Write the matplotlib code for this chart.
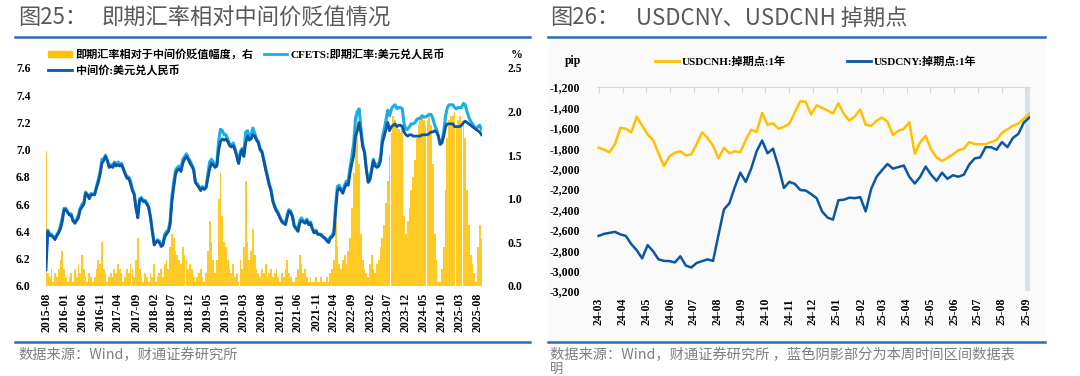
import numpy as np
import pandas as pd
import matplotlib
matplotlib.use("Agg")
import matplotlib.pyplot as plt
import matplotlib.dates as mdates
from matplotlib.lines import Line2D
from matplotlib.patches import Rectangle
from matplotlib.ticker import FuncFormatter, FormatStrFormatter

# %% data: left panel, semi-monthly (1st and 16th), 2015-08 .. 2025-09
mid_rate = [
    6.12, 6.40, 6.37, 6.37, 6.36, 6.34, 6.37, 6.39, 6.42, 6.47,
    6.56, 6.56, 6.54, 6.52, 6.52, 6.48, 6.46, 6.48, 6.50, 6.56, 6.58, 6.60, 6.68, 6.67, 6.64, 6.67, 6.67, 6.67, 6.72, 6.76, 6.82, 6.90, 6.92, 6.95,
    6.92, 6.87, 6.88, 6.87, 6.90, 6.88, 6.89, 6.88, 6.89, 6.86, 6.82, 6.79, 6.79, 6.75, 6.70, 6.67, 6.56, 6.50, 6.63, 6.64, 6.62, 6.62, 6.60, 6.58,
    6.50, 6.40, 6.30, 6.32, 6.33, 6.32, 6.29, 6.30, 6.36, 6.38, 6.40, 6.45, 6.62, 6.72, 6.82, 6.85, 6.86, 6.84, 6.90, 6.93, 6.95, 6.93, 6.90, 6.88,
    6.85, 6.76, 6.74, 6.72, 6.70, 6.72, 6.71, 6.72, 6.79, 6.86, 6.90, 6.89, 6.87, 6.88, 7.00, 7.06, 7.08, 7.07, 7.08, 7.06, 7.03, 7.02, 7.03, 7.00,
    6.95, 6.90, 6.97, 7.00, 6.95, 7.05, 7.10, 7.07, 7.08, 7.11, 7.10, 7.07, 7.05, 7.00, 6.98, 6.92, 6.85, 6.80, 6.74, 6.70, 6.62, 6.58, 6.55, 6.53,
    6.50, 6.47, 6.46, 6.45, 6.50, 6.55, 6.54, 6.51, 6.44, 6.42, 6.40, 6.46, 6.48, 6.47, 6.46, 6.48, 6.45, 6.46, 6.42, 6.39, 6.40, 6.38, 6.38, 6.37,
    6.36, 6.35, 6.33, 6.32, 6.35, 6.36, 6.38, 6.55, 6.70, 6.72, 6.70, 6.68, 6.72, 6.75, 6.74, 6.83, 6.90, 6.96, 7.10, 7.14, 7.20, 7.12, 7.02, 6.98,
    6.85, 6.76, 6.78, 6.85, 6.92, 6.88, 6.87, 6.88, 6.92, 7.05, 7.10, 7.15, 7.20, 7.14, 7.17, 7.18, 7.19, 7.17, 7.18, 7.18, 7.17, 7.13, 7.11, 7.10,
    7.11, 7.11, 7.10, 7.10, 7.10, 7.10, 7.10, 7.11, 7.11, 7.11, 7.11, 7.12, 7.13, 7.13, 7.14, 7.13, 7.10, 7.04, 7.05, 7.10, 7.17, 7.19, 7.19, 7.19,
    7.19, 7.17, 7.17, 7.17, 7.17, 7.18, 7.20, 7.21, 7.20, 7.19, 7.18, 7.17, 7.16, 7.15, 7.14, 7.13, 7.11,
]
spot_rate = [
    6.21, 6.41, 6.38, 6.38, 6.36, 6.35, 6.38, 6.40, 6.44, 6.50,
    6.57, 6.57, 6.54, 6.53, 6.53, 6.48, 6.47, 6.49, 6.52, 6.57, 6.60, 6.61, 6.69, 6.67, 6.65, 6.68, 6.67, 6.68, 6.73, 6.78, 6.84, 6.93, 6.93, 6.96,
    6.92, 6.88, 6.89, 6.88, 6.91, 6.89, 6.91, 6.89, 6.90, 6.86, 6.83, 6.80, 6.80, 6.77, 6.71, 6.68, 6.58, 6.54, 6.64, 6.65, 6.62, 6.63, 6.61, 6.58,
    6.51, 6.41, 6.32, 6.32, 6.34, 6.33, 6.30, 6.31, 6.38, 6.40, 6.41, 6.48, 6.66, 6.76, 6.85, 6.87, 6.88, 6.86, 6.93, 6.95, 6.97, 6.94, 6.92, 6.89,
    6.86, 6.76, 6.75, 6.73, 6.71, 6.73, 6.71, 6.73, 6.82, 6.91, 6.93, 6.91, 6.88, 6.90, 7.07, 7.15, 7.14, 7.11, 7.11, 7.08, 7.04, 7.03, 7.05, 7.01,
    6.96, 6.90, 6.99, 7.01, 6.98, 7.13, 7.14, 7.09, 7.11, 7.16, 7.12, 7.08, 7.06, 7.01, 6.99, 6.93, 6.87, 6.81, 6.75, 6.71, 6.63, 6.59, 6.56, 6.54,
    6.50, 6.48, 6.47, 6.46, 6.52, 6.56, 6.55, 6.51, 6.44, 6.43, 6.41, 6.48, 6.50, 6.48, 6.47, 6.49, 6.45, 6.47, 6.42, 6.39, 6.41, 6.38, 6.38, 6.38,
    6.36, 6.35, 6.34, 6.32, 6.36, 6.37, 6.40, 6.60, 6.73, 6.74, 6.71, 6.70, 6.74, 6.77, 6.77, 6.87, 6.96, 7.05, 7.23, 7.28, 7.30, 7.16, 7.04, 6.99,
    6.86, 6.77, 6.80, 6.87, 6.93, 6.89, 6.89, 6.90, 6.95, 7.09, 7.15, 7.22, 7.29, 7.25, 7.30, 7.32, 7.33, 7.30, 7.31, 7.31, 7.30, 7.19, 7.15, 7.15,
    7.17, 7.19, 7.19, 7.20, 7.22, 7.23, 7.23, 7.25, 7.24, 7.24, 7.25, 7.26, 7.26, 7.23, 7.18, 7.15, 7.10, 7.04, 7.06, 7.13, 7.25, 7.31, 7.33, 7.33,
    7.33, 7.31, 7.30, 7.31, 7.31, 7.31, 7.34, 7.33, 7.28, 7.24, 7.21, 7.19, 7.17, 7.15, 7.17, 7.18, 7.15,
]
depreciation_pct = [
    1.55, 0.15, 0.10, 0.20, 0.05, 0.15, 0.10, 0.20, 0.30, 0.40,
    0.20, 0.10, 0.05, 0.10, 0.15, 0.05, 0.20, 0.10, 0.25, 0.15, 0.35, 0.20, 0.10, 0.05, 0.15, 0.10, 0.05, 0.10, 0.20, 0.30, 0.25, 0.50, 0.20, 0.15,
    0.05, 0.10, 0.15, 0.10, 0.20, 0.15, 0.25, 0.20, 0.15, 0.05, 0.10, 0.20, 0.15, 0.25, 0.20, 0.10, 0.30, 0.55, 0.20, 0.10, 0.05, 0.15, 0.10, 0.05,
    0.15, 0.10, 0.25, 0.05, 0.10, 0.15, 0.20, 0.10, 0.25, 0.30, 0.20, 0.45, 0.60, 0.55, 0.40, 0.35, 0.30, 0.25, 0.45, 0.35, 0.30, 0.20, 0.25, 0.20,
    0.10, 0.05, 0.10, 0.15, 0.20, 0.10, 0.05, 0.15, 0.40, 0.75, 0.50, 0.30, 0.15, 0.30, 1.00, 1.30, 0.80, 0.50, 0.45, 0.30, 0.20, 0.15, 0.25, 0.10,
    0.15, 0.05, 0.30, 0.20, 0.45, 1.20, 0.50, 0.30, 0.40, 0.65, 0.35, 0.20, 0.15, 0.10, 0.20, 0.15, 0.25, 0.10, 0.15, 0.20, 0.10, 0.15, 0.20, 0.10,
    0.05, 0.15, 0.10, 0.20, 0.30, 0.15, 0.10, 0.05, 0.05, 0.10, 0.20, 0.35, 0.25, 0.15, 0.20, 0.10, 0.05, 0.10, 0.05, 0.05, 0.10, 0.05, 0.05, 0.10,
    0.05, 0.05, 0.10, 0.05, 0.15, 0.20, 0.30, 0.75, 0.45, 0.25, 0.20, 0.30, 0.35, 0.25, 0.40, 0.55, 0.90, 1.30, 1.80, 1.95, 1.40, 0.60, 0.30, 0.20,
    0.15, 0.10, 0.25, 0.35, 0.20, 0.15, 0.25, 0.30, 0.45, 0.55, 0.70, 0.95, 1.20, 1.50, 1.75, 1.95, 1.90, 1.85, 1.80, 1.75, 1.85, 0.80, 0.60, 0.75,
    0.90, 1.10, 1.25, 1.45, 1.70, 1.85, 1.90, 1.95, 1.90, 1.85, 1.90, 1.95, 1.85, 1.40, 0.60, 0.30, 0.05, 0.05, 0.20, 0.45, 1.10, 1.70, 1.90, 1.95,
    1.95, 2.00, 1.85, 1.90, 1.95, 1.85, 1.90, 1.70, 1.10, 0.70, 0.35, 0.25, 0.15, 0.05, 0.45, 0.70, 0.55,
]

# %% data: right panel, weekly (Fridays) 2024-03-01 .. 2025-09-05, pip
cnh_swap = [
    -1795, -1815, -1840, -1760, -1600, -1610, -1645, -1490, -1580, -1665,
    -1720, -1850, -1975, -1880, -1845, -1830, -1870, -1860, -1760, -1645,
    -1700, -1775, -1900, -1795, -1850, -1830, -1840, -1720, -1620, -1640,
    -1455, -1570, -1555, -1610, -1590, -1560, -1450, -1340, -1345, -1470,
    -1380, -1405, -1430, -1460, -1360, -1465, -1530, -1490, -1420, -1570,
    -1580, -1530, -1500, -1540, -1670, -1630, -1610, -1545, -1855, -1740,
    -1680, -1810, -1890, -1925, -1895, -1860, -1820, -1805, -1740, -1760,
    -1760, -1760, -1740, -1720, -1650, -1615, -1580, -1560, -1510, -1465,
]
cny_swap = [
    -2660, -2640, -2630, -2620, -2645, -2660, -2740, -2800, -2880, -2750,
    -2810, -2890, -2905, -2907, -2920, -2860, -2950, -2970, -2925, -2907,
    -2890, -2905, -2650, -2400, -2340, -2180, -2040, -2130, -2000, -1830,
    -1725, -1850, -1805, -1980, -2190, -2130, -2150, -2210, -2215, -2250,
    -2290, -2420, -2480, -2500, -2310, -2305, -2285, -2290, -2280, -2420,
    -2200, -2080, -2015, -1955, -2000, -1985, -1970, -2080, -2146, -2080,
    -1980, -2060, -2120, -2040, -2100, -2065, -2080, -2060, -1960, -1900,
    -1890, -1790, -1790, -1815, -1740, -1790, -1700, -1660, -1550, -1500,
]

left_labels = ["即期汇率相对于中间价贬值幅度，右", "CFETS:即期汇率:美元兑人民币", "中间价:美元兑人民币"]
right_labels = ["USDCNH:掉期点:1年", "USDCNY:掉期点:1年"]

# dates
month_starts = pd.date_range("2015-08-01", "2025-08-01", freq="MS")
left_dates = sorted(list(month_starts) + list(month_starts + pd.Timedelta(days=15)) + [pd.Timestamp("2025-09-01")])
right_dates = pd.date_range("2024-03-01", periods=len(cnh_swap), freq="7D")

# %% style
W, H = 1080, 376
serif = ["Liberation Serif", "Noto Sans CJK SC"]
sans = ["Noto Sans CJK SC", "DejaVu Sans"]
plt.rcParams["font.family"] = serif
plt.rcParams["axes.unicode_minus"] = False

YELLOW = "#FFC000"
CYAN = "#1BAEE6"
NAVY = "#0B56A4"
RULE = "#2E6BB5"
GRAY_TXT = "#7F7F7F"
TITLE_TXT = "#595959"


def fx(px):
    return px / W


def fy(py):
    return 1 - py / H


fig = plt.figure(figsize=(W / 100, H / 100), dpi=100)

# faint background of right panel
fig.add_artist(Rectangle((fx(548), fy(340)), fx(1045) - fx(548), fy(40) - fy(340),
                         transform=fig.transFigure, color="#FAFAFA", zorder=0))

# titles
fig.text(fx(18), fy(18), "图25：", family=sans, fontsize=16, color=TITLE_TXT, va="center")
fig.text(fx(102), fy(18), "即期汇率相对中间价贬值情况", family=sans, fontsize=16, color=TITLE_TXT, va="center")
fig.text(fx(550), fy(18), "图26：", family=sans, fontsize=16, color=TITLE_TXT, va="center")
fig.text(fx(636), fy(18), "USDCNY、USDCNH 掉期点", family=sans, fontsize=16, color=TITLE_TXT, va="center")

# separator rules
for x0, x1 in [(15, 530), (548, 1045)]:
    for yy in (37, 342):
        fig.add_artist(Line2D([fx(x0), fx(x1)], [fy(yy), fy(yy)], transform=fig.transFigure,
                              color=RULE, lw=1.8))

# footnotes
fig.text(fx(18), fy(355), "数据来源：Wind，财通证券研究所", family=sans, fontsize=10.3, color=GRAY_TXT, va="center")
fig.text(fx(550), fy(355), "数据来源：Wind，财通证券研究所 ，蓝色阴影部分为本周时间区间数据表",
         family=sans, fontsize=10.3, color=GRAY_TXT, va="center")
fig.text(fx(550), fy(369.5), "明", family=sans, fontsize=9.5, color=GRAY_TXT, va="center")

# %% left panel
ax = fig.add_axes([fx(46), fy(286), fx(482) - fx(46), fy(68) - fy(286)])
ax2 = ax.twinx()
ax2.bar(left_dates, depreciation_pct, width=15, color=YELLOW, linewidth=0, alpha=0.85)
ax.plot(left_dates, spot_rate, color=CYAN, lw=2.2)
ax.plot(left_dates, mid_rate, color=NAVY, lw=2.0)
ax.set_zorder(ax2.get_zorder() + 1)
ax.patch.set_visible(False)

ax.set_ylim(6.0, 7.6)
ax.set_yticks(np.arange(6.0, 7.61, 0.2))
ax.yaxis.set_major_formatter(FormatStrFormatter("%.1f"))
ax2.set_ylim(0, 2.5)
ax2.set_yticks(np.arange(0, 2.51, 0.5))
ax2.yaxis.set_major_formatter(FormatStrFormatter("%.1f"))
ax.set_xlim(pd.Timestamp("2015-08-01"), pd.Timestamp("2025-09-05"))
ax.set_xticks(pd.date_range("2015-08-01", "2025-08-01", freq="5MS"))
ax.xaxis.set_major_formatter(mdates.DateFormatter("%Y-%m"))
for a in (ax, ax2):
    for s in a.spines.values():
        s.set_visible(False)
ax.tick_params(axis="y", length=0, pad=11, labelsize=8.5)
ax2.tick_params(axis="y", length=0, pad=18, labelsize=8.5)
ax.tick_params(axis="x", length=0, pad=5, labelsize=8.5, labelrotation=90)
for lab in ax.get_xticklabels() + ax.get_yticklabels() + ax2.get_yticklabels():
    lab.set_fontweight("bold")

# left legend
fig.add_artist(Rectangle((fx(48), fy(57)), fx(72) - fx(48), fy(51) - fy(57),
                         transform=fig.transFigure, color=YELLOW))
fig.text(fx(76), fy(54), left_labels[0], fontsize=8, fontweight="bold", va="center")
fig.add_artist(Line2D([fx(264), fx(287)], [fy(54), fy(54)], transform=fig.transFigure, color=CYAN, lw=2))
fig.text(fx(290), fy(54), left_labels[1], fontsize=8, fontweight="bold", va="center")
fig.add_artist(Line2D([fx(48), fx(72)], [fy(70), fy(70)], transform=fig.transFigure, color=NAVY, lw=2))
fig.text(fx(76), fy(70), left_labels[2], fontsize=8, fontweight="bold", va="center")
fig.text(fx(517), fy(55), "%", fontsize=8.5, fontweight="bold", va="center", ha="center")

# %% right panel
bx = fig.add_axes([fx(597), fy(291), fx(1030) - fx(597), fy(87) - fy(291)])
bx.patch.set_visible(False)
bx.axvspan(pd.Timestamp("2025-08-30"), pd.Timestamp("2025-09-06"), color="#D9E1F2", lw=0)
bx.plot(right_dates, cnh_swap, color=YELLOW, lw=1.8)
bx.plot(right_dates, cny_swap, color=NAVY, lw=1.8)
bx.set_ylim(-3200, -1200)
bx.set_yticks(np.arange(-3200, -1199, 200))
bx.yaxis.set_major_formatter(FuncFormatter(lambda v, p: f"{v:,.0f}"))
bx.set_xlim(pd.Timestamp("2024-02-28"), pd.Timestamp("2025-09-06"))
bx.set_xticks(pd.date_range("2024-03-01", "2025-09-01", freq="MS"))
bx.xaxis.set_major_formatter(mdates.DateFormatter("%y-%m"))
for name, s in bx.spines.items():
    s.set_visible(name == "top")
bx.spines["top"].set_color("#D9D9D9")
bx.tick_params(axis="x", which="both", top=True, bottom=False, direction="in", length=4,
               color="#D9D9D9", labelbottom=True, labeltop=False, pad=5, labelsize=8.5, labelrotation=90)
bx.tick_params(axis="y", length=0, pad=12, labelsize=8.5)
for lab in bx.get_xticklabels() + bx.get_yticklabels():
    lab.set_fontweight("bold")

fig.text(fx(565), fy(61), "pip", fontsize=8.5, fontweight="bold", va="center")
fig.add_artist(Line2D([fx(655), fx(679)], [fy(61), fy(61)], transform=fig.transFigure, color=YELLOW, lw=2))
fig.text(fx(682), fy(61), right_labels[0], fontsize=8, fontweight="bold", va="center")
fig.add_artist(Line2D([fx(847), fx(871)], [fy(61), fy(61)], transform=fig.transFigure, color=NAVY, lw=2))
fig.text(fx(874), fy(61), right_labels[1], fontsize=8, fontweight="bold", va="center")

fig.savefig("out.png", dpi=100)
